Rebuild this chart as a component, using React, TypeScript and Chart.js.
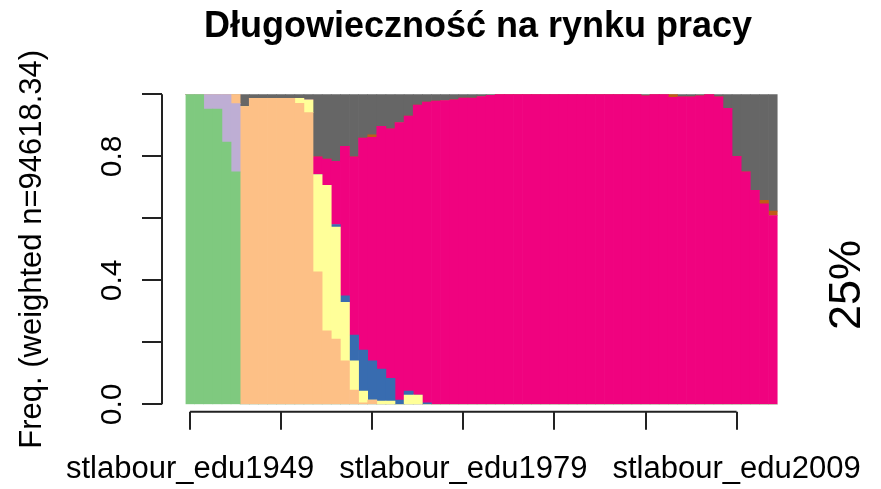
import { useEffect, useRef } from 'react';
import { Chart, registerables } from 'chart.js';

Chart.register(...registerables);

const titleText = 'Długowieczność na rynku pracy';
const yAxisTitle = 'Freq. (weighted n=94618.34)';
const sideText = '25%';

const firstYear = 1949;
const categories: string[] = Array.from({ length: 65 }, (_, i) => `stlabour_edu${firstYear + i}`);

const stateLabels = ['S1', 'S2', 'S3', 'S4', 'S5', 'S6', 'S7', 'S8'];
const stateColors = ['#7FC97F', '#BEAED4', '#FDC086', '#FFFF99', '#386CB0', '#F0027F', '#BF5B17', '#666666'];

// columns 0-9, 10-19, 20-29, 30-39, 40-49, 50-59, 60-64
const s1 = [
  1, 1, 0.952, 0.952, 0.846, 0.75, 0, 0, 0, 0,
  0, 0, 0, 0, 0, 0, 0, 0, 0, 0,
  0, 0, 0, 0, 0, 0, 0, 0, 0, 0,
  0, 0, 0, 0, 0, 0, 0, 0, 0, 0,
  0, 0, 0, 0, 0, 0, 0, 0, 0, 0,
  0, 0, 0, 0, 0, 0, 0, 0, 0, 0,
  0, 0, 0, 0, 0,
];
const s2 = [
  0, 0, 0.048, 0.048, 0.154, 0.22, 0, 0, 0, 0,
  0, 0, 0, 0, 0, 0, 0, 0, 0, 0,
  0, 0, 0, 0, 0, 0, 0, 0, 0, 0,
  0, 0, 0, 0, 0, 0, 0, 0, 0, 0,
  0, 0, 0, 0, 0, 0, 0, 0, 0, 0,
  0, 0, 0, 0, 0, 0, 0, 0, 0, 0,
  0, 0, 0, 0, 0,
];
const s3 = [
  0, 0, 0, 0, 0, 0.03, 0.96, 0.987, 0.987, 0.987,
  0.987, 0.987, 0.971, 0.941, 0.427, 0.237, 0.21, 0.14, 0.046, 0.005,
  0.014, 0, 0, 0, 0, 0, 0, 0, 0, 0,
  0, 0, 0, 0, 0, 0, 0, 0, 0, 0,
  0, 0, 0, 0, 0, 0, 0, 0, 0, 0,
  0, 0, 0, 0, 0, 0, 0, 0, 0, 0,
  0, 0, 0, 0, 0,
];
const s4 = [
  0, 0, 0, 0, 0, 0, 0, 0, 0, 0,
  0, 0, 0.016, 0.041, 0.314, 0.469, 0.362, 0.189, 0.094, 0.038,
  0, 0.01, 0.01, 0, 0.03, 0.03, 0, 0, 0, 0,
  0, 0, 0, 0, 0, 0, 0, 0, 0, 0,
  0, 0, 0, 0, 0, 0, 0, 0, 0, 0,
  0, 0, 0, 0, 0, 0, 0, 0, 0, 0,
  0, 0, 0, 0, 0,
];
const s5 = [
  0, 0, 0, 0, 0, 0, 0, 0, 0, 0,
  0, 0, 0, 0, 0, 0, 0.008, 0.021, 0.083, 0.132,
  0.126, 0.104, 0.074, 0.014, 0.013, 0, 0.005, 0, 0, 0,
  0, 0, 0, 0, 0, 0, 0, 0, 0, 0,
  0, 0, 0, 0, 0, 0, 0, 0, 0, 0,
  0, 0, 0, 0, 0, 0, 0, 0, 0, 0,
  0, 0, 0, 0, 0,
];
const s6 = [
  0, 0, 0, 0, 0, 0, 0, 0, 0, 0,
  0, 0, 0, 0, 0.057, 0.085, 0.204, 0.482, 0.575, 0.684,
  0.721, 0.783, 0.805, 0.895, 0.887, 0.935, 0.97, 0.978, 0.98, 0.982,
  0.988, 0.988, 0.993, 0.997, 1, 1, 1, 1, 1, 1,
  1, 1, 1, 1, 1, 1, 1, 1, 1, 1,
  0.995, 1, 1, 0.99, 0.992, 0.992, 0.995, 1, 0.992, 0.955,
  0.8, 0.75, 0.69, 0.647, 0.609,
];
const s7 = [
  0, 0, 0, 0, 0, 0, 0, 0, 0, 0,
  0, 0, 0, 0, 0, 0, 0, 0, 0, 0,
  0.008, 0, 0, 0, 0, 0, 0, 0, 0, 0,
  0, 0, 0, 0, 0, 0, 0, 0, 0, 0,
  0, 0, 0, 0, 0, 0, 0, 0, 0, 0,
  0, 0, 0, 0.01, 0, 0, 0, 0, 0, 0,
  0, 0, 0, 0.011, 0.014,
];
const s8 = [
  0, 0, 0, 0, 0, 0, 0.04, 0.013, 0.013, 0.013,
  0.013, 0.013, 0.013, 0.018, 0.202, 0.209, 0.216, 0.168, 0.202, 0.141,
  0.131, 0.103, 0.111, 0.091, 0.07, 0.035, 0.025, 0.022, 0.02, 0.018,
  0.012, 0.012, 0.007, 0.003, 0, 0, 0, 0, 0, 0,
  0, 0, 0, 0, 0, 0, 0, 0, 0, 0,
  0.005, 0, 0, 0, 0.008, 0.008, 0.005, 0, 0.008, 0.045,
  0.2, 0.25, 0.31, 0.342, 0.377,
];
const seriesValues = [s1, s2, s3, s4, s5, s6, s7, s8];

const yTickValues = [0, 0.2, 0.4, 0.6, 0.8, 1];
const yTickLabels = ['0.0', '', '0.4', '', '0.8', ''];
const xTickIndices = [0, 10, 20, 30, 40, 50, 60];
const xTickLabels = ['stlabour_edu1949', '', '', 'stlabour_edu1979', '', '', 'stlabour_edu2009'];

const FONT = '"Liberation Sans", Arial, sans-serif';

const rAxesPlugin = {
  id: 'rAxes',
  afterDraw(chart: any) {
    const { ctx, chartArea, scales } = chart;
    const xs = scales.x;
    const ys = scales.y;
    ctx.save();
    ctx.strokeStyle = '#222';
    ctx.fillStyle = '#000';
    ctx.lineWidth = 2;

    // title
    ctx.font = `bold 36px ${FONT}`;
    ctx.textAlign = 'center';
    ctx.textBaseline = 'alphabetic';
    ctx.fillText(titleText, 478, 37);

    // y axis
    const axX = chartArea.left - 23.5;
    const yTop = ys.getPixelForValue(yTickValues[yTickValues.length - 1]);
    const yBot = ys.getPixelForValue(yTickValues[0]);
    ctx.beginPath();
    ctx.moveTo(axX, yTop);
    ctx.lineTo(axX, yBot);
    yTickValues.forEach((v) => {
      const py = Math.round(ys.getPixelForValue(v));
      ctx.moveTo(axX, py);
      ctx.lineTo(axX - 20, py);
    });
    ctx.stroke();
    ctx.font = `30px ${FONT}`;
    yTickValues.forEach((v, i) => {
      const lab = yTickLabels[i];
      if (!lab) return;
      const py = ys.getPixelForValue(v);
      ctx.save();
      ctx.translate(121, py);
      ctx.rotate(-Math.PI / 2);
      ctx.fillText(lab, 0, 0);
      ctx.restore();
    });

    // y axis title
    ctx.font = `31px ${FONT}`;
    ctx.save();
    ctx.translate(41, (chartArea.top + chartArea.bottom) / 2);
    ctx.rotate(-Math.PI / 2);
    ctx.fillText(yAxisTitle, 0, 0);
    ctx.restore();

    // x axis
    const axY = chartArea.bottom + 7.5;
    const x0 = xs.getPixelForValue(xTickIndices[0]);
    const x1 = xs.getPixelForValue(xTickIndices[xTickIndices.length - 1]);
    ctx.beginPath();
    ctx.moveTo(x0, axY);
    ctx.lineTo(x1, axY);
    xTickIndices.forEach((idx) => {
      const px = Math.round(xs.getPixelForValue(idx));
      ctx.moveTo(px, axY);
      ctx.lineTo(px, axY + 18);
    });
    ctx.stroke();
    ctx.font = `31px ${FONT}`;
    xTickIndices.forEach((idx, i) => {
      const lab = xTickLabels[i];
      if (!lab) return;
      ctx.fillText(lab, xs.getPixelForValue(idx), 478);
    });

    // side text
    ctx.font = `45px ${FONT}`;
    ctx.save();
    ctx.translate(860, 285);
    ctx.rotate(-Math.PI / 2);
    ctx.fillText(sideText, 0, 0);
    ctx.restore();

    ctx.restore();
  },
};

export default function App() {
  const canvasRef = useRef<HTMLCanvasElement | null>(null);

  useEffect(() => {
    const canvas = canvasRef.current;
    if (!canvas) return;
    const chart = new Chart(canvas, {
      type: 'bar',
      data: {
        labels: categories,
        datasets: seriesValues.map((vals, i) => ({
          label: stateLabels[i],
          data: vals,
          backgroundColor: stateColors[i],
          borderWidth: 0,
          barPercentage: 1,
          categoryPercentage: 1,
        })),
      },
      options: {
        responsive: false,
        animation: false,
        devicePixelRatio: 1,
        layout: { padding: { left: 185.5, right: 103.4, top: 94.3, bottom: 84.7 } },
        plugins: {
          legend: { display: false },
          title: { display: false },
          tooltip: { enabled: false },
        },
        scales: {
          x: { stacked: true, display: false },
          y: { stacked: true, display: false, min: 0, max: 1 },
        },
      },
      plugins: [rAxesPlugin],
    });
    return () => chart.destroy();
  }, []);

  return (
    <div style={{ position: 'fixed', left: 0, top: 0, width: 881, height: 489, background: '#fff' }}>
      <canvas ref={canvasRef} width={881} height={489} style={{ display: 'block' }} />
    </div>
  );
}
